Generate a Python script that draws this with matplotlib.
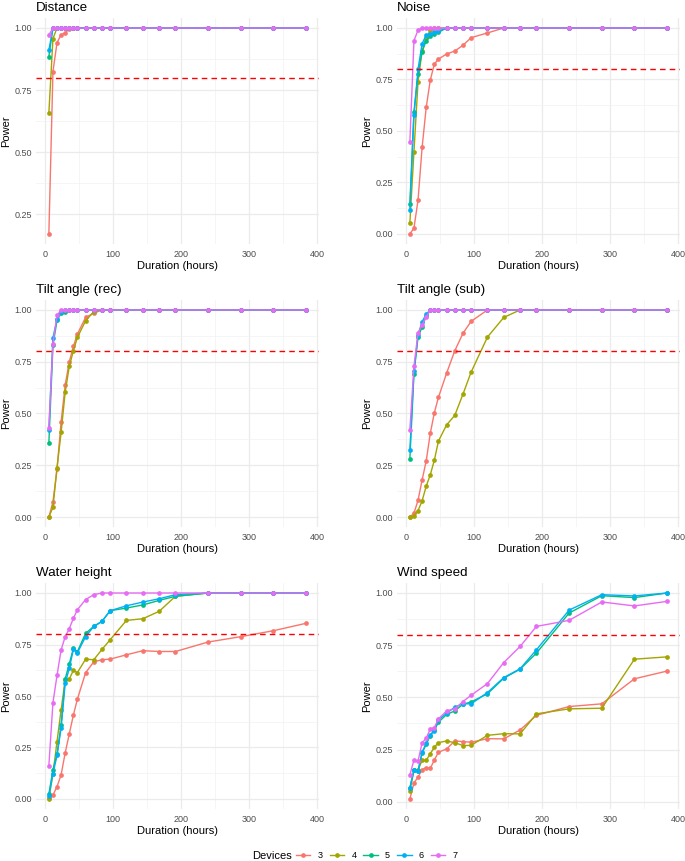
import matplotlib
matplotlib.use('Agg')
import matplotlib.pyplot as plt
from matplotlib.ticker import FixedLocator, FormatStrFormatter
from matplotlib.lines import Line2D

plt.rcParams['font.family'] = ['Liberation Sans', 'DejaVu Sans']

duration = [6, 12, 18, 24, 30, 36, 42, 48, 60, 72, 84, 96, 120, 144, 168, 192, 240, 288, 336, 384]
devices = ['3', '4', '5', '6', '7']
colors = ['#F8766D', '#A3A500', '#00BF7D', '#00B0F6', '#E76BF3']
titles = ['Distance', 'Noise', 'Tilt angle (rec)', 'Tilt angle (sub)', 'Water height', 'Wind speed']

distance = [
    [0.17, 0.824, 0.941, 0.973, 0.98, 0.997, 1, 1, 1, 1, 1, 1, 1, 1, 1, 1, 1, 1, 1, 1],
    [0.657, 0.957, 1, 1, 1, 1, 1, 1, 1, 1, 1, 1, 1, 1, 1, 1, 1, 1, 1, 1],
    [0.885, 1, 1, 1, 1, 1, 1, 1, 1, 1, 1, 1, 1, 1, 1, 1, 1, 1, 1, 1],
    [0.911, 1, 1, 1, 1, 1, 1, 1, 1, 1, 1, 1, 1, 1, 1, 1, 1, 1, 1, 1],
    [0.972, 1, 1, 1, 1, 1, 1, 1, 1, 1, 1, 1, 1, 1, 1, 1, 1, 1, 1, 1],
]
noise = [
    [0.0, 0.028, 0.164, 0.42, 0.614, 0.747, 0.825, 0.849, 0.874, 0.888, 0.916, 0.953, 0.976, 1, 1, 1, 1, 1, 1, 1],
    [0.054, 0.399, 0.739, 0.89, 0.95, 0.99, 1, 1, 1, 1, 1, 1, 1, 1, 1, 1, 1, 1, 1, 1],
    [0.147, 0.593, 0.776, 0.885, 0.938, 0.959, 0.97, 0.979, 1, 1, 1, 1, 1, 1, 1, 1, 1, 1, 1, 1],
    [0.118, 0.577, 0.80, 0.924, 0.966, 0.972, 0.979, 0.985, 1, 1, 1, 1, 1, 1, 1, 1, 1, 1, 1, 1],
    [0.446, 0.938, 0.99, 1, 1, 1, 1, 1, 1, 1, 1, 1, 1, 1, 1, 1, 1, 1, 1, 1],
]
tilt_rec = [
    [0.0, 0.073, 0.231, 0.46, 0.638, 0.75, 0.824, 0.884, 0.964, 0.984, 1, 1, 1, 1, 1, 1, 1, 1, 1, 1],
    [0.0, 0.047, 0.239, 0.409, 0.604, 0.727, 0.803, 0.868, 0.948, 0.992, 1, 1, 1, 1, 1, 1, 1, 1, 1, 1],
    [0.357, 0.829, 0.95, 0.984, 0.992, 1, 1, 1, 1, 1, 1, 1, 1, 1, 1, 1, 1, 1, 1, 1],
    [0.42, 0.866, 0.956, 0.99, 1, 1, 1, 1, 1, 1, 1, 1, 1, 1, 1, 1, 1, 1, 1, 1],
    [0.43, 0.838, 0.974, 1, 1, 1, 1, 1, 1, 1, 1, 1, 1, 1, 1, 1, 1, 1, 1, 1],
]
tilt_sub = [
    [0.0, 0.018, 0.081, 0.179, 0.271, 0.404, 0.504, 0.578, 0.695, 0.803, 0.887, 0.945, 1, 1, 1, 1, 1, 1, 1, 1],
    [0.0, 0.006, 0.031, 0.078, 0.149, 0.204, 0.275, 0.367, 0.445, 0.491, 0.593, 0.70, 0.869, 0.964, 1, 1, 1, 1, 1, 1],
    [0.28, 0.693, 0.868, 0.919, 0.97, 1, 1, 1, 1, 1, 1, 1, 1, 1, 1, 1, 1, 1, 1, 1],
    [0.325, 0.703, 0.88, 0.943, 0.98, 1, 1, 1, 1, 1, 1, 1, 1, 1, 1, 1, 1, 1, 1, 1],
    [0.422, 0.727, 0.89, 0.927, 0.966, 1, 1, 1, 1, 1, 1, 1, 1, 1, 1, 1, 1, 1, 1, 1],
]
water_height = [
    [0.004, 0.019, 0.06, 0.118, 0.224, 0.316, 0.407, 0.486, 0.613, 0.666, 0.676, 0.679, 0.70, 0.72, 0.716, 0.716, 0.762, 0.788, 0.817, 0.853],
    [0.0, 0.122, 0.279, 0.433, 0.579, 0.583, 0.624, 0.614, 0.679, 0.676, 0.726, 0.773, 0.867, 0.875, 0.911, 0.984, 1, 1, 1, 1],
    [0.024, 0.143, 0.217, 0.361, 0.583, 0.656, 0.731, 0.716, 0.804, 0.838, 0.862, 0.914, 0.927, 0.942, 0.964, 0.984, 1, 1, 1, 1],
    [0.016, 0.122, 0.212, 0.345, 0.561, 0.634, 0.726, 0.71, 0.788, 0.838, 0.862, 0.914, 0.938, 0.956, 0.972, 0.992, 1, 1, 1, 1],
    [0.162, 0.468, 0.60, 0.724, 0.788, 0.827, 0.877, 0.919, 0.968, 0.992, 1, 1, 1, 1, 1, 1, 1, 1, 1, 1],
]
wind_speed = [
    [0.013, 0.09, 0.118, 0.154, 0.163, 0.16, 0.2, 0.237, 0.253, 0.291, 0.288, 0.285, 0.302, 0.301, 0.344, 0.414, 0.456, 0.469, 0.589, 0.626],
    [0.053, 0.15, 0.152, 0.198, 0.198, 0.23, 0.261, 0.283, 0.291, 0.283, 0.269, 0.27, 0.318, 0.326, 0.325, 0.421, 0.445, 0.448, 0.683, 0.694],
    [0.064, 0.15, 0.146, 0.234, 0.275, 0.317, 0.344, 0.381, 0.418, 0.435, 0.467, 0.478, 0.517, 0.592, 0.635, 0.712, 0.904, 0.987, 0.978, 1.0],
    [0.067, 0.152, 0.146, 0.238, 0.28, 0.322, 0.339, 0.392, 0.424, 0.453, 0.469, 0.469, 0.523, 0.595, 0.637, 0.728, 0.918, 0.992, 0.986, 1.0],
    [0.128, 0.2, 0.195, 0.282, 0.304, 0.349, 0.355, 0.397, 0.435, 0.445, 0.48, 0.51, 0.566, 0.667, 0.744, 0.84, 0.869, 0.957, 0.938, 0.96],
]
panels = [distance, noise, tilt_rec, tilt_sub, water_height, wind_speed]
threshold = 0.8

W, H = 685, 861
fig = plt.figure(figsize=(W / 100, H / 100), dpi=100)

col_x = [36, 397]
ax_w = 283
row_y = [(17.7, 244.2), (299.6, 527.4), (582.7, 809.3)]

for i, (title, data) in enumerate(zip(titles, panels)):
    r, c = divmod(i, 2)
    y0, y1 = row_y[r]
    ax = fig.add_axes([col_x[c] / W, 1 - y1 / H, ax_w / W, (y1 - y0) / H])
    for dev, col, vals in zip(devices, colors, data):
        ax.plot(duration, vals, color=col, lw=1.0, marker='o', ms=3.4,
                markeredgewidth=0, zorder=3)
    ax.margins(x=0.05, y=0.05)
    ax.axhline(threshold, color='red', ls=(0, (4, 3)), lw=1.0, zorder=4)
    for s in ax.spines.values():
        s.set_visible(False)
    ax.xaxis.set_major_locator(FixedLocator([0, 100, 200, 300, 400]))
    ax.xaxis.set_minor_locator(FixedLocator([50, 150, 250, 350]))
    ax.yaxis.set_major_locator(FixedLocator([0, 0.25, 0.5, 0.75, 1.0]))
    ax.yaxis.set_minor_locator(FixedLocator([0.125, 0.375, 0.625, 0.875]))
    ax.yaxis.set_major_formatter(FormatStrFormatter('%.2f'))
    ax.grid(which='major', color='#EBEBEB', lw=0.9, zorder=0)
    ax.grid(which='minor', color='#F2F2F2', lw=0.5, zorder=0)
    ax.set_axisbelow(True)
    ax.tick_params(which='both', length=0, labelsize=6.5, colors='#4D4D4D', pad=4)
    ax.tick_params(axis='y', pad=3)
    ax.set_xlabel('Duration (hours)', fontsize=8, labelpad=1.5)
    ax.set_ylabel('Power', fontsize=8, labelpad=2)
    ax.set_title(title, loc='left', fontsize=9.6, pad=5)

handles = [Line2D([0], [0], color=col, lw=1.0, marker='o', ms=3.4, markeredgewidth=0)
           for col in colors]
fig.text(252 / W, 1 - 856 / H, 'Devices', fontsize=8, ha='left', va='center')
fig.legend(handles, devices, loc='center left', bbox_to_anchor=(296 / W, 1 - 856 / H),
           ncol=5, frameon=False, fontsize=6.5, handlelength=1.6, handletextpad=0.8,
           columnspacing=0.78, borderpad=0, borderaxespad=0)

fig.savefig('out.png', dpi=100, facecolor='white')
